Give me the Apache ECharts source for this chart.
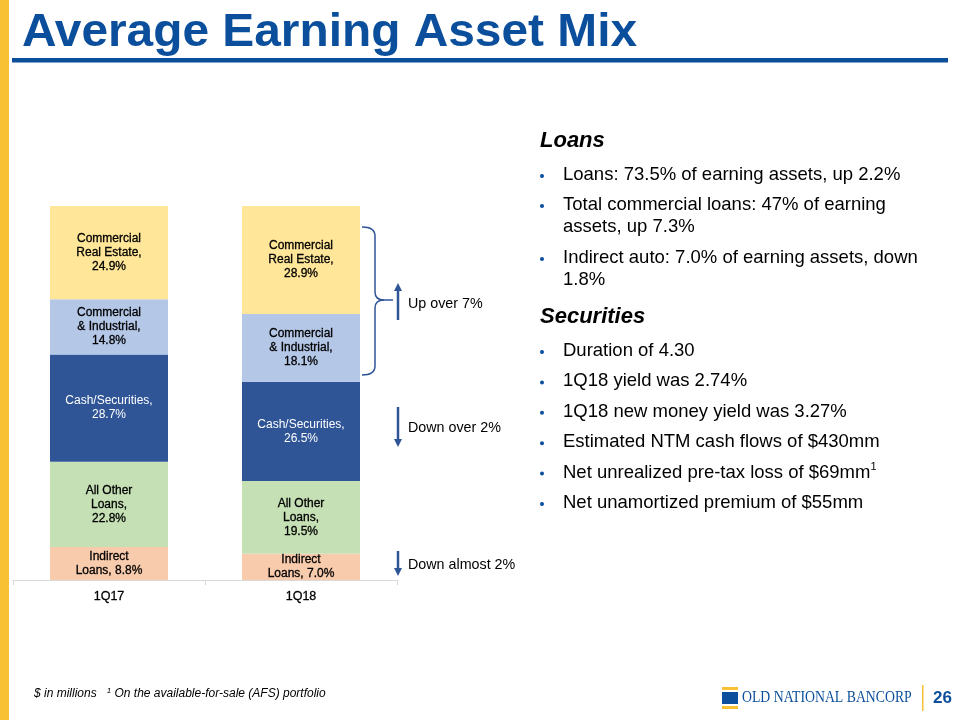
<!DOCTYPE html>
<html><head><meta charset="utf-8">
<script src="https://cdn.jsdelivr.net/npm/echarts@6/dist/echarts.min.js"></script>
<style>html,body{margin:0;padding:0;background:#fff}#c{width:960px;height:720px}</style>
</head><body><div id="c"></div>
<script>
const categories = ['1Q17', '1Q18'];
const seriesNames = ['Indirect Loans', 'All Other Loans', 'Cash/Securities', 'Commercial & Industrial', 'Commercial Real Estate'];
const indirectLoans = [8.8, 7.0];
const allOtherLoans = [22.8, 19.5];
const cashSecurities = [28.7, 26.5];
const commercialIndustrial = [14.8, 18.1];
const commercialRealEstate = [24.9, 28.9];
const labelPrefixes = ['Indirect\nLoans, ', 'All Other\nLoans,\n', 'Cash/Securities,\n', 'Commercial\n& Industrial,\n', 'Commercial\nReal Estate,\n'];
const loansBullets = [
  ['Loans: 73.5% of earning assets, up 2.2%'],
  ['Total commercial loans: 47% of earning', 'assets, up 7.3%'],
  ['Indirect auto: 7.0% of earning assets, down', '1.8%']
];
const securitiesBullets = [
  'Duration of 4.30',
  '1Q18 yield was 2.74%',
  '1Q18 new money yield was 3.27%',
  'Estimated NTM cash flows of $430mm',
  'Net unrealized pre-tax loss of $69mm{sup|1}',
  'Net unamortized premium of $55mm'
];
const annotations = ['Up over 7%', 'Down over 2%', 'Down almost 2%'];

const seriesData = [indirectLoans, allOtherLoans, cashSecurities, commercialIndustrial, commercialRealEstate];
const colors = ['#F8CBAD', '#C5E0B4', '#2F5597', '#B4C7E7', '#FFE699'];
const FONT = '"Liberation Sans", Arial, sans-serif';
const BLUE = '#0B4F9C';
const DARKBLUE = '#2F5597';

const series = seriesData.map((d, i) => ({
  name: seriesNames[i],
  type: 'bar',
  stack: 'mix',
  barWidth: 118,
  data: d,
  itemStyle: { color: colors[i] },
  label: {
    show: true,
    position: 'inside',
    formatter: p => labelPrefixes[i] + p.value.toFixed(1) + '%',
    color: i === 2 ? '#ffffff' : '#000000',
    fontFamily: FONT,
    fontSize: 12,
    fontWeight: 'normal',
    textBorderColor: i === 2 ? 'transparent' : '#000000',
    textBorderWidth: i === 2 ? 0 : 0.3,
    lineHeight: 14,
    align: 'center'
  }
}));

const g = [];
// left yellow strip
g.push({ type: 'rect', shape: { x: 0, y: 0, width: 9, height: 720 }, style: { fill: '#F8C133' } });
// title
g.push({ type: 'text', x: 22, y: 33, scaleX: 1.04, style: { text: 'Average Earning Asset Mix', font: 'bold 46px ' + FONT, fill: BLUE, textAlign: 'left', textVerticalAlign: 'middle' } });
g.push({ type: 'rect', shape: { x: 12, y: 58, width: 936, height: 4.5 }, style: { fill: BLUE } });

// bracket
const bs = { stroke: DARKBLUE, lineWidth: 1.5, fill: null };
g.push({ type: 'bezierCurve', shape: { x1: 362, y1: 227, cpx1: 375, cpy1: 227, x2: 375, y2: 236 }, style: bs });
g.push({ type: 'line', shape: { x1: 375, y1: 236, x2: 375, y2: 292 }, style: bs });
g.push({ type: 'bezierCurve', shape: { x1: 375, y1: 292, cpx1: 375, cpy1: 300, x2: 384, y2: 300 }, style: bs });
g.push({ type: 'line', shape: { x1: 384, y1: 300, x2: 393, y2: 300 }, style: bs });
g.push({ type: 'bezierCurve', shape: { x1: 384, y1: 300, cpx1: 375, cpy1: 300, x2: 375, y2: 308 }, style: bs });
g.push({ type: 'line', shape: { x1: 375, y1: 308, x2: 375, y2: 366 }, style: bs });
g.push({ type: 'bezierCurve', shape: { x1: 375, y1: 366, cpx1: 375, cpy1: 375, x2: 362, y2: 375 }, style: bs });
// arrows
function arrow(x, y1, y2) {
  const dir = y2 > y1 ? 1 : -1;
  g.push({ type: 'line', shape: { x1: x, y1: y1, x2: x, y2: y2 - dir * 7 }, style: { stroke: DARKBLUE, lineWidth: 2.5 } });
  g.push({ type: 'polygon', shape: { points: [[x - 4, y2 - dir * 8], [x + 4, y2 - dir * 8], [x, y2]] }, style: { fill: DARKBLUE } });
}
arrow(398, 320, 283);
arrow(398, 407, 447);
arrow(398, 551, 576);
const annY = [304, 428, 565];
annotations.forEach((t, i) => g.push({ type: 'text', x: 408, y: annY[i], style: { text: t, font: '14.3px ' + FONT, fill: '#000', textAlign: 'left', textVerticalAlign: 'middle' } }));

// right text
function header(t, y) {
  g.push({ type: 'text', x: 540, y: y, style: { text: t, font: 'italic bold 22px ' + FONT, fill: '#000', textAlign: 'left', textVerticalAlign: 'middle' } });
}
function bullet(lines, y) {
  g.push({ type: 'circle', shape: { cx: 542, cy: y + 1, r: 2 }, style: { fill: BLUE } });
  lines.forEach((l, k) => g.push({ type: 'text', x: 563, y: y + k * 22, style: {
    text: l, font: '18.5px ' + FONT, fill: '#000', textAlign: 'left', textVerticalAlign: 'middle',
    rich: { sup: { fontSize: 11, fontFamily: FONT, fill: '#000', padding: [0, 0, 11, 0] } }
  } }));
}
header('Loans', 141);
const loanY = [175, 205, 258];
loansBullets.forEach((b, i) => bullet(b, loanY[i]));
header('Securities', 317);
securitiesBullets.forEach((b, i) => bullet([b], 351 + i * 30.4));

// footer
g.push({ type: 'text', x: 34, y: 694, style: {
  text: '$ in millions   {s|1} On the available-for-sale (AFS) portfolio',
  font: 'italic 12px ' + FONT, fill: '#000', textAlign: 'left', textVerticalAlign: 'middle',
  rich: { s: { fontSize: 8, fontStyle: 'italic', fontFamily: FONT, padding: [0, 0, 6, 0] } }
} });
// logo
g.push({ type: 'rect', shape: { x: 722, y: 687, width: 16, height: 3 }, style: { fill: '#F8C133' } });
g.push({ type: 'rect', shape: { x: 722, y: 692, width: 16, height: 12 }, style: { fill: BLUE } });
g.push({ type: 'rect', shape: { x: 722, y: 706, width: 16, height: 3 }, style: { fill: '#F8C133' } });
g.push({ type: 'text', x: 742, y: 698, scaleX: 0.86, style: { text: 'OLD NATIONAL BANCORP', font: '16px "Liberation Serif", serif', fill: BLUE, textAlign: 'left', textVerticalAlign: 'middle' } });
g.push({ type: 'rect', shape: { x: 922, y: 685, width: 1.5, height: 26 }, style: { fill: '#F8C133' } });
g.push({ type: 'text', x: 933, y: 698, style: { text: '26', font: 'bold 17px ' + FONT, fill: BLUE, textAlign: 'left', textVerticalAlign: 'middle' } });

const chart = echarts.init(document.getElementById('c'), null, { renderer: 'canvas' });
chart.setOption({
  animation: false,
  backgroundColor: '#ffffff',
  grid: { left: 13, right: 563, top: 206, bottom: 140, containLabel: false },
  xAxis: {
    type: 'category', data: categories, boundaryGap: true,
    axisLine: { lineStyle: { color: '#D9D9D9', width: 1 } },
    axisTick: { show: true, length: 5, lineStyle: { color: '#D9D9D9' } },
    axisLabel: { color: '#000', fontFamily: FONT, fontSize: 12.5, fontWeight: 'normal', textBorderColor: '#000', textBorderWidth: 0.3, margin: 10 }
  },
  yAxis: { type: 'value', min: 0, max: 100, show: false, splitLine: { show: false } },
  series: series,
  graphic: g
});
</script></body></html>
